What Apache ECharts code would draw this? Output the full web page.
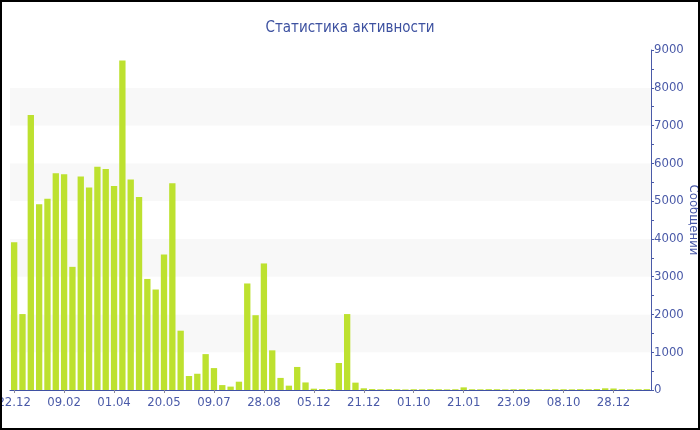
<!DOCTYPE html>
<html>
<head>
<meta charset="utf-8">
<script src="https://cdn.jsdelivr.net/npm/echarts@6/dist/echarts.min.js"></script>
<style>
html,body{margin:0;padding:0;background:#fff;}
#c{width:700px;height:430px;}
</style>
</head>
<body>
<div id="c"></div>
<script>
var titleText = 'Статистика активности';
var yAxisName = 'Сообщений';
var categories = [
 '22.12','30.12','07.01','16.01','24.01','01.02',
 '09.02','17.02','25.02','06.03','14.03','23.03',
 '01.04','09.04','17.04','25.04','04.05','12.05',
 '20.05','28.05','05.06','14.06','22.06','30.06',
 '09.07','17.07','25.07','03.08','11.08','19.08',
 '28.08','05.09','13.09','22.09','30.09','08.10',
 '05.12','07.12','10.12','13.12','16.12','18.12',
 '21.12','15.03','10.05','01.06','15.07','20.08',
 '01.10','20.10','15.11','02.12','26.12','10.01',
 '21.01','01.03','15.04','03.06','18.07','22.08',
 '23.09','25.09','28.09','02.10','03.10','06.10',
 '08.10','22.10','05.11','20.11','06.12','17.12',
 '28.12','12.01','25.01','10.02','24.02'
];
var messages = [
 3910,2010,7280,4920,5060,5740,
 5710,3260,5650,5360,5910,5850,
 5400,8720,5570,5110,2940,2660,
 3590,5470,1570,370,430,950,
 580,130,90,220,2820,1980,
 3350,1050,320,115,610,200,
 35,25,25,715,2010,195,
 45,25,18,22,20,15,
 20,18,22,20,16,20,
 70,20,18,22,20,17,
 20,22,19,20,18,21,
 20,18,22,20,25,45,
 40,20,18,20,22
];
var yTicks = { min: 0, max: 9000, interval: 1000 };

var blue = '#4a5aa8';
var chart = echarts.init(document.getElementById('c'), null, { renderer: 'canvas' });
chart.setOption({
  animation: false,
  backgroundColor: '#ffffff',
  textStyle: { fontFamily: 'DejaVu Sans Condensed' },
  title: {
    text: titleText,
    left: 'center',
    top: 16,
    textStyle: { color: '#3d51a0', fontSize: 15, fontWeight: 'normal', fontFamily: 'DejaVu Sans Condensed' }
  },
  grid: { left: 10, right: 49, top: 50, bottom: 40, containLabel: false, outerBoundsMode: 'none' },
  xAxis: {
    type: 'category',
    data: categories,
    boundaryGap: true,
    axisLine: { show: true, lineStyle: { color: '#3f51a3', width: 1 } },
    axisTick: { show: true, alignWithLabel: true, interval: 5, length: 3, lineStyle: { color: '#8a8a9a' } },
    axisLabel: { interval: 5, color: blue, fontSize: 13, margin: 6, fontFamily: 'DejaVu Sans Condensed' },
    splitLine: { show: false }
  },
  yAxis: {
    type: 'value',
    position: 'right',
    min: yTicks.min,
    max: yTicks.max,
    interval: yTicks.interval,
    name: yAxisName,
    nameLocation: 'middle',
    nameRotate: -90,
    nameGap: 36,
    nameMoveOverlap: false,
    nameTextStyle: { color: blue, fontSize: 13, fontFamily: 'DejaVu Sans Condensed' },
    axisLine: { show: true, lineStyle: { color: '#4a5aa8', width: 1 } },
    axisTick: { show: true, length: 3, lineStyle: { color: '#4a5aa8' } },
    minorTick: { show: true, splitNumber: 2, length: 3, lineStyle: { color: '#4a5aa8' } },
    axisLabel: { color: blue, fontSize: 13, margin: 3, fontFamily: 'DejaVu Sans Condensed',
      formatter: function (v) { return String(v); } },
    splitLine: { show: false },
    splitArea: { show: true, areaStyle: { color: ['#ffffff', '#f8f8f8'] } }
  },
  series: [{
    type: 'bar',
    data: messages,
    barCategoryGap: '24%',
    itemStyle: { color: '#bde12f' }
  }],
  graphic: [{
    type: 'rect',
    z: 100,
    silent: true,
    shape: { x: 0, y: 0, width: 700, height: 430 },
    style: { fill: 'none', stroke: '#000', lineWidth: 4 }
  }]
});
</script>
</body>
</html>
